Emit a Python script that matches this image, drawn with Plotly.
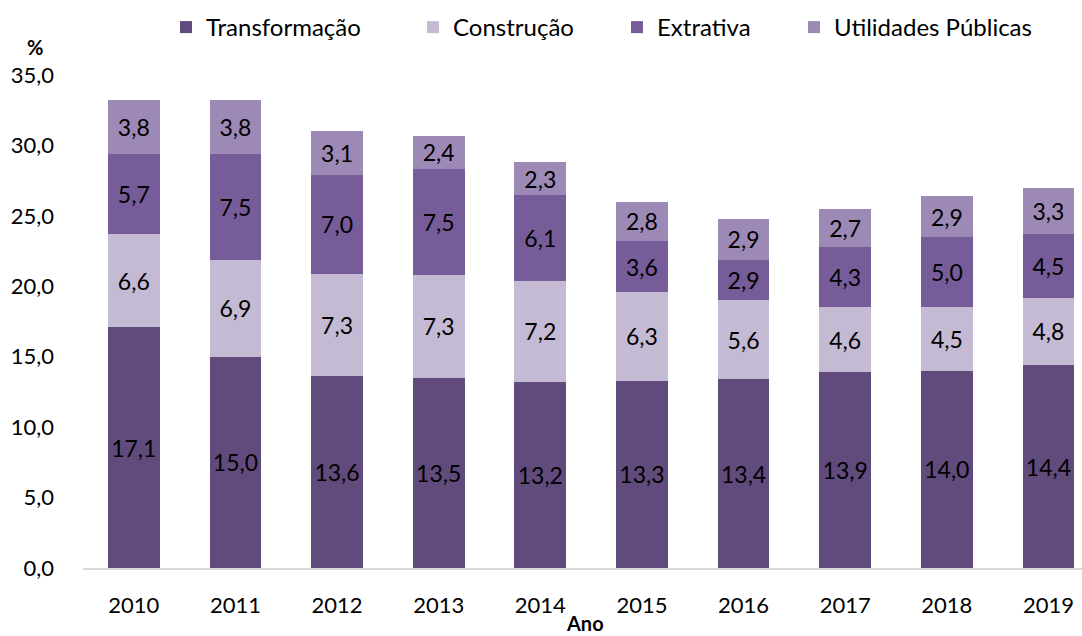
import plotly.graph_objects as go

anos = ["2010", "2011", "2012", "2013", "2014", "2015", "2016", "2017", "2018", "2019"]
transformacao = [17.1, 15.0, 13.6, 13.5, 13.2, 13.3, 13.4, 13.9, 14.0, 14.4]
construcao = [6.6, 6.9, 7.3, 7.3, 7.2, 6.3, 5.6, 4.6, 4.5, 4.8]
extrativa = [5.7, 7.5, 7.0, 7.5, 6.1, 3.6, 2.9, 4.3, 5.0, 4.5]
utilidades = [3.8, 3.8, 3.1, 2.4, 2.3, 2.8, 2.9, 2.7, 2.9, 3.3]

series = [
    ("Transformação", transformacao, "#614B7C"),
    ("Construção", construcao, "#C4BAD4"),
    ("Extrativa", extrativa, "#765C98"),
    ("Utilidades Públicas", utilidades, "#9D89B6"),
]
legend_x = [166, 413, 617, 794]

FONT = "Lato, 'Open Sans', sans-serif"

fig = go.Figure()
legend_layout = {}
for i, (name, vals, color) in enumerate(series):
    lg = f"legend{i+2}"
    fig.add_trace(go.Bar(
        x=anos, y=vals, name=name, legend=lg,
        marker=dict(color=color, line=dict(width=0)),
        texttemplate="%{y:.1f}", textposition="inside", insidetextanchor="middle",
        textangle=0, textfont=dict(color="black", size=23, family=FONT),
        constraintext="none", cliponaxis=False,
    ))
    legend_layout[lg] = dict(
        orientation="h", xref="container", yref="container",
        x=legend_x[i] / 1082, xanchor="left", y=1 - 5 / 636, yanchor="top",
        font=dict(size=24, family=FONT, color="black"), itemwidth=30,
        bgcolor="rgba(0,0,0,0)",
    )

fig.update_layout(
    barmode="stack",
    bargap=0.49,
    separators=",.",
    width=1082, height=636,
    margin=dict(l=83, r=0, t=75, b=68, autoexpand=False),
    paper_bgcolor="white", plot_bgcolor="white",
    font=dict(family=FONT, size=22, color="black"),
    uniformtext=dict(minsize=23, mode="show"),
    showlegend=True,
    xaxis=dict(type="category", range=[-0.5, 9.33], showline=True, automargin=False,
               linecolor="#D9D9D9", linewidth=1.5, ticks="", showgrid=False,
               tickfont=dict(size=22), ticklabelstandoff=17),
    yaxis=dict(range=[0, 35], dtick=5, tickformat=".1f", showgrid=False, automargin=False,
               zeroline=False, showline=False, ticks="", tickfont=dict(size=22),
               ticklabelstandoff=28),
    annotations=[
        dict(text="<b>%</b>", xref="paper", yref="paper", x=(35 - 83) / 999, y=(568 - 47) / 493,
             xanchor="center", yanchor="middle", showarrow=False,
             font=dict(size=20, family=FONT)),
        dict(text="<b>Ano</b>", xref="paper", yref="paper", x=(585 - 83) / 999, y=(568 - 623) / 493,
             xanchor="center", yanchor="middle", showarrow=False,
             font=dict(size=20, family=FONT)),
    ],
    **legend_layout,
)

fig.write_html("out.html", config={"displayModeBar": False},
               post_script="document.body.style.margin='0';")
